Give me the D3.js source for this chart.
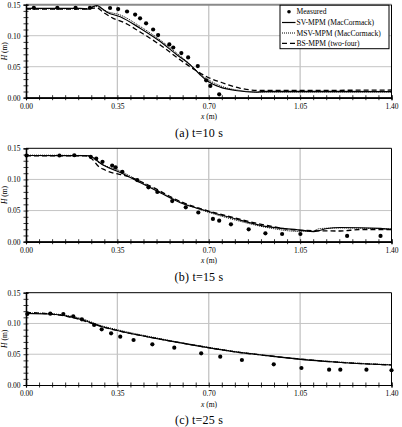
<!DOCTYPE html>
<html>
<head>
<meta charset="utf-8">
<script src="https://cdn.jsdelivr.net/npm/d3@7"></script>
<style>
  body { margin: 0; background: #fff; }
  svg { display: block; }
  text { font-family: "Liberation Serif", "DejaVu Serif", serif; fill: #000; }
</style>
</head>
<body>
<svg width="402" height="427"></svg>
<script>
// ---- data: x (m), H (m) ----
var xTicks = [0, 0.35, 0.70, 1.05, 1.40];
var yTicks = [0, 0.05, 0.10, 0.15];
var captions = ["(a) t=10 s", "(b) t=15 s", "(c) t=25 s"];
var legendNames = ["Measured", "SV-MPM (MacCormack)", "MSV-MPM (MacCormack)", "BS-MPM (two-four)"];

var meas10 = [[0.03,0.145],[0.12,0.145],[0.19,0.145],[0.245,0.145],[0.322,0.1447],[0.353,0.143],[0.387,0.139],
  [0.418,0.134],[0.437,0.128],[0.46,0.12],[0.487,0.11],[0.506,0.101],[0.549,0.086],[0.564,0.081],
  [0.595,0.072],[0.621,0.065],[0.658,0.051],[0.69,0.028],[0.706,0.019],[0.74,0.0055]];
var sv10 = [[0,0.1442],[0.207,0.1442],[0.238,0.143],[0.253,0.146],[0.272,0.1487],[0.288,0.1447],[0.31,0.138],
  [0.361,0.1306],[0.437,0.112],[0.506,0.093],[0.579,0.069],[0.629,0.053],[0.667,0.037],[0.698,0.026],
  [0.744,0.017],[0.802,0.0116],[0.886,0.009],[0.917,0.0103],[1.40,0.010]];
var msv10 = [[0,0.1435],[0.226,0.1435],[0.272,0.147],[0.291,0.143],[0.311,0.139],[0.361,0.1334],[0.437,0.115],
  [0.506,0.0955],[0.579,0.0713],[0.629,0.0535],[0.667,0.038],[0.706,0.027],[0.752,0.018],[0.821,0.0116],
  [0.898,0.0084],[1.40,0.0084]];
var bs10 = [[0,0.143],[0.226,0.143],[0.245,0.1439],[0.272,0.1447],[0.295,0.138],[0.334,0.128],[0.372,0.122],
  [0.437,0.106],[0.514,0.085],[0.591,0.061],[0.648,0.0447],[0.694,0.0334],[0.744,0.0253],[0.821,0.0152],
  [0.898,0.0116],[1.40,0.0124]];

var meas15 = [[0.002,0.1384],[0.128,0.1384],[0.185,0.1388],[0.248,0.1363],[0.269,0.1336],[0.293,0.1283],
  [0.33,0.1224],[0.343,0.1195],[0.369,0.1123],[0.426,0.099],[0.469,0.0874],[0.503,0.0798],[0.56,0.0653],
  [0.612,0.0552],[0.66,0.0469],[0.716,0.0365],[0.74,0.0337],[0.785,0.0279],[0.853,0.0199],[0.917,0.0135],
  [0.981,0.0124],[1.051,0.0124],[1.23,0.0092],[1.358,0.0092]];
var sv15 = [[0,0.1384],[0.23,0.1381],[0.253,0.136],[0.272,0.1304],[0.284,0.1264],[0.361,0.111],[0.437,0.0951],
  [0.514,0.0787],[0.591,0.0626],[0.667,0.0525],[0.706,0.0477],[0.794,0.0376],[0.923,0.0241],[1.051,0.0188],
  [1.102,0.0161],[1.153,0.0212],[1.204,0.0228],[1.358,0.0215],[1.40,0.0196]];
var msv15 = [[0,0.139],[0.23,0.1384],[0.257,0.1344],[0.276,0.128],[0.361,0.1135],[0.437,0.0967],[0.514,0.0798],
  [0.591,0.0638],[0.667,0.0517],[0.794,0.0357],[0.923,0.0228],[1.051,0.0164],[1.09,0.0164],[1.128,0.0212],
  [1.204,0.022],[1.40,0.0204]];
var bs15 = [[0,0.1378],[0.226,0.1378],[0.253,0.1328],[0.276,0.1216],[0.303,0.1151],[0.399,0.1039],[0.476,0.0895],
  [0.591,0.0646],[0.667,0.0533],[0.794,0.0389],[0.923,0.026],[1.051,0.0183],[1.204,0.0172],[1.281,0.0196],
  [1.40,0.0196]];

var meas25 = [[0.005,0.1154],[0.093,0.1159],[0.143,0.1154],[0.181,0.1116],[0.214,0.1068],[0.261,0.0975],
  [0.29,0.0905],[0.326,0.084],[0.361,0.0785],[0.412,0.0731],[0.484,0.0661],[0.568,0.0606],[0.671,0.0515],
  [0.744,0.046],[0.827,0.0406],[0.949,0.0336],[1.055,0.0276],[1.161,0.0249],[1.204,0.0249],[1.304,0.0249],
  [1.40,0.024]];
var sv25 = [[0,0.1165],[0.092,0.1154],[0.156,0.1121],[0.219,0.1056],[0.284,0.0959],[0.354,0.0882],[0.476,0.0775],
  [0.565,0.0704],[0.667,0.0629],[0.795,0.0541],[0.923,0.0476],[1.051,0.0418],[1.179,0.0374],[1.307,0.0341],
  [1.40,0.0325]];
var msv25 = [[0,0.117],[0.09,0.116],[0.156,0.113],[0.22,0.107],[0.284,0.097],[0.354,0.0895],[0.476,0.0785],
  [0.565,0.0712],[0.667,0.0636],[0.795,0.0548],[0.923,0.0482],[1.051,0.0424],[1.179,0.038],[1.307,0.0347],
  [1.40,0.0331]];
var bs25 = [[0,0.118],[0.09,0.1155],[0.156,0.1115],[0.22,0.1045],[0.284,0.0955],[0.354,0.088],[0.476,0.0775],
  [0.565,0.0705],[0.667,0.063],[0.795,0.0542],[0.923,0.0477],[1.051,0.042],[1.179,0.0375],[1.307,0.0342],
  [1.40,0.0326]];

var panels = [
  {meas: meas10, sv: sv10, msv: msv10, bs: bs10, top: 4.7, bottom: 97.7, legend: true},
  {meas: meas15, sv: sv15, msv: msv15, bs: bs15, top: 148.3, bottom: 241.7},
  {meas: meas25, sv: sv25, msv: msv25, bs: bs25, top: 292.7, bottom: 385}
];

var svg = d3.select("svg");
var x = d3.scaleLinear().domain([0, 1.4]).range([26, 391.5]);
var xMinor = d3.range(0, 1.4001, 0.05);
var yMinor = d3.range(0, 0.1501, 0.01);

var styles = {
  sv:  {w: 1.2, dash: null},
  msv: {w: 1.0, dash: "1,1"},
  bs:  {w: 1.3, dash: "5,3"}
};

panels.forEach(function(p, i) {
  var y = d3.scaleLinear().domain([0, 0.15]).range([p.bottom, p.top]);
  var g = svg.append("g");

  // grid
  g.selectAll(".gy").data(yTicks.slice(1, 3)).enter().append("line")
    .attr("x1", x(0)).attr("x2", x(1.4))
    .attr("y1", function(d){ return y(d); }).attr("y2", function(d){ return y(d); })
    .attr("stroke", "#c4c4c4").attr("stroke-width", 1);
  g.selectAll(".gx").data(xTicks.slice(1, 4)).enter().append("line")
    .attr("x1", function(d){ return x(d); }).attr("x2", function(d){ return x(d); })
    .attr("y1", y(0)).attr("y2", y(0.15))
    .attr("stroke", "#c4c4c4").attr("stroke-width", 1.3);

  // frame top / right
  g.append("line").attr("x1", x(0)).attr("x2", x(1.4)).attr("y1", y(0.15)).attr("y2", y(0.15))
    .attr("stroke", i == 0 ? "#8a8a8a" : "#000").attr("stroke-width", i == 0 ? 2 : 1);
  g.append("line").attr("x1", x(1.4)).attr("x2", x(1.4)).attr("y1", y(0)).attr("y2", y(0.15))
    .attr("stroke", "#000").attr("stroke-width", 1);

  // lines
  var line = d3.line().x(function(d){ return x(d[0]); }).y(function(d){ return y(d[1]); })
    .curve(d3.curveMonotoneX);
  ["bs", "msv", "sv"].forEach(function(k) {
    g.append("path").attr("d", line(p[k])).attr("fill", "none")
      .attr("stroke", "#000").attr("stroke-width", styles[k].w)
      .attr("stroke-dasharray", styles[k].dash);
  });

  // measured
  g.selectAll(".m").data(p.meas).enter().append("circle")
    .attr("cx", function(d){ return x(d[0]); }).attr("cy", function(d){ return y(d[1]); })
    .attr("r", 2.1).attr("fill", "#000");

  // axes: minor ticks crossing the axis lines
  var xb = g.append("g").attr("transform", "translate(0," + y(0) + ")");
  xb.append("g").call(d3.axisBottom(x).tickValues(xMinor).tickSize(2.5).tickFormat(""));
  xb.append("g").call(d3.axisTop(x).tickValues(xMinor).tickSize(2.5).tickFormat(""));
  xb.append("g").call(d3.axisBottom(x).tickValues(xTicks).tickSize(0).tickPadding(5.5)
      .tickFormat(d3.format(".2f")));
  var yl = g.append("g").attr("transform", "translate(" + x(0) + ",0)");
  yl.append("g").call(d3.axisLeft(y).tickValues(yMinor).tickSize(2.5).tickFormat(""));
  yl.append("g").call(d3.axisRight(y).tickValues(yMinor).tickSize(2.5).tickFormat(""));
  yl.append("g").call(d3.axisLeft(y).tickValues(yTicks).tickSize(0).tickPadding(5.5)
      .tickFormat(d3.format(".2f")));
  g.selectAll(".domain").attr("stroke", "#000").attr("stroke-width", 1.2);
  g.selectAll(".tick line").attr("stroke", "#000").attr("stroke-width", 0.8);
  g.selectAll(".tick text").style("font-family", "Liberation Serif, serif").attr("font-size", 7.5);

  // axis titles
  var yt = g.append("text").attr("transform", "translate(7," + ((p.top + p.bottom) / 2) + ") rotate(-90)")
    .attr("text-anchor", "middle").attr("font-size", 7.5);
  yt.append("tspan").attr("font-style", "italic").text("H");
  yt.append("tspan").text(" (m)");
  var xt = g.append("text").attr("x", 209).attr("y", p.bottom + 21.5)
    .attr("text-anchor", "middle").attr("font-size", 7.5);
  xt.append("tspan").attr("font-style", "italic").text("x");
  xt.append("tspan").text(" (m)");

  // caption
  g.append("text").attr("x", 199).attr("y", p.bottom + 39)
    .attr("text-anchor", "middle").attr("font-size", 12).attr("letter-spacing", 0.2).text(captions[i]);

  if (p.legend) {
    var lg = g.append("g");
    lg.append("rect").attr("x", 280).attr("y", y(0.15) + 0.5).attr("width", 109).attr("height", 43.5)
      .attr("fill", "#fff").attr("stroke", "#000").attr("stroke-width", 1);
    var rowsY = [11.7, 22.5, 33, 43.3];
    legendNames.forEach(function(name, j) {
      var ry = rowsY[j];
      if (j == 0) {
        lg.append("circle").attr("cx", 289).attr("cy", ry).attr("r", 1.8).attr("fill", "#000");
      } else {
        var k = ["sv", "msv", "bs"][j - 1];
        lg.append("line").attr("x1", 282).attr("x2", 295.5).attr("y1", ry).attr("y2", ry)
          .attr("stroke", "#000").attr("stroke-width", styles[k].w)
          .attr("stroke-dasharray", styles[k].dash);
      }
      lg.append("text").attr("x", 296.5).attr("y", ry + 2.6).attr("font-size", 7.6).text(name);
    });
  }
});
</script>
</body>
</html>
